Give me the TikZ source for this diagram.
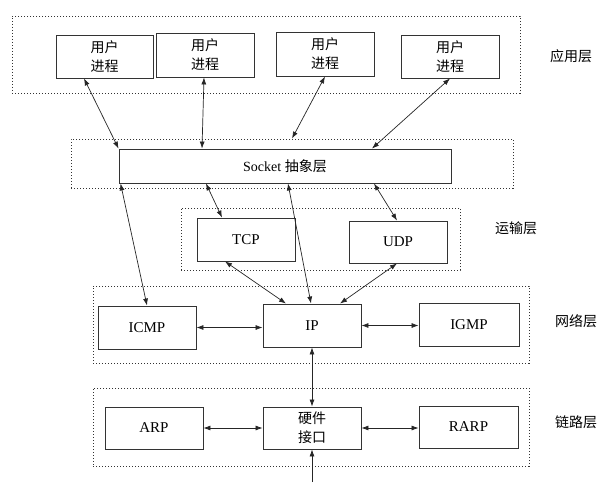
\documentclass[tikz,border=0pt]{standalone}
\usepackage{fontspec}
\setmainfont{Liberation Serif}
\newfontfamily\cjk{Noto Sans CJK SC}
\usetikzlibrary{arrows.meta,calc}
\begin{document}
\begin{tikzpicture}[x=1pt,y=-1pt,
  box/.style={draw=black!80,line width=0.9pt,rectangle,inner sep=0pt,align=center,font=\fontsize{15}{18}\selectfont},
  cbox/.style={box,font=\cjk\fontsize{14}{19}\selectfont},
  region/.style={draw=black!80,line width=0.8pt,dash pattern=on 1.2pt off 1.8pt,rectangle,inner sep=0pt},
  lbl/.style={font=\cjk\fontsize{14}{16}\selectfont,inner sep=0pt},
  link/.style={draw=black!85,line width=0.7pt,{Latex[length=7pt,width=5pt]}-{Latex[length=7pt,width=5pt]}},
  uplink/.style={draw=black!85,line width=0.7pt,-{Latex[length=7pt,width=5pt]}}]
\useasboundingbox (0,0) rectangle (607,482);
\fill[white] (0,0) rectangle (607,482);
% regions
\node[region,minimum width=508pt,minimum height=77pt] (app) at (266,54.5) {};
\node[region,minimum width=442pt,minimum height=49pt] (sockreg) at (292,163.5) {};
\node[region,minimum width=279pt,minimum height=62pt] (trans) at (320.5,239) {};
\node[region,minimum width=436pt,minimum height=77pt] (net) at (311,324.5) {};
\node[region,minimum width=436pt,minimum height=78pt] (lnk) at (311,427) {};
% layer labels
\node[lbl] (lapp) at (571,56) {应用层};
\node[lbl] (ltrans) at (516,228) {运输层};
\node[lbl] (lnet) at (576,321) {网络层};
\node[lbl] (llnk) at (576,422) {链路层};
% boxes
\node[cbox,minimum width=97pt,minimum height=43pt] (u1) at (104.5,56.5) {用户\\进程};
\node[cbox,minimum width=98pt,minimum height=44pt] (u2) at (205,55) {用户\\进程};
\node[cbox,minimum width=98pt,minimum height=44pt] (u3) at (325,54) {用户\\进程};
\node[cbox,minimum width=98pt,minimum height=43pt] (u4) at (450,56.5) {用户\\进程};
\node[box,minimum width=332pt,minimum height=34pt,font=\fontsize{14}{16}\selectfont] (sock) at (285,166) {Socket {\cjk 抽象层}};
\node[box,minimum width=98pt,minimum height=43pt] (tcp) at (246,239.5) {TCP};
\node[box,minimum width=98pt,minimum height=42pt] (udp) at (398,242) {UDP};
\node[box,minimum width=98pt,minimum height=43pt] (icmp) at (147,327.5) {ICMP};
\node[box,minimum width=98pt,minimum height=43pt] (ip) at (312,325.5) {IP};
\node[box,minimum width=100pt,minimum height=43pt] (igmp) at (469,324.5) {IGMP};
\node[box,minimum width=98pt,minimum height=42pt] (arp) at (154,428) {ARP};
\node[cbox,minimum width=98pt,minimum height=42pt] (hw) at (312,428) {硬件\\接口};
\node[box,minimum width=99pt,minimum height=42pt] (rarp) at (468.5,427) {RARP};
\coordinate (wire) at (312,482);
% application to socket
\draw[link] ([xshift=-20.5pt]u1.south) -- (sock.north west);
\draw[link] ([xshift=-1pt]u2.south) -- ([xshift=-83pt]sock.north);
\draw[link] (u3.south) -- (sockreg.north);
\draw[link] (u4.south) -- ([xshift=87pt]sock.north);
% socket down
\draw[link] ([xshift=2pt]sock.south west) -- (icmp.north);
\draw[link] ([xshift=-79pt]sock.south) -- ([xshift=-24pt]tcp.north);
\draw[link] ([xshift=3pt]sock.south) -- ([xshift=-1pt]ip.north);
\draw[link] ([xshift=89pt]sock.south) -- ([xshift=-1pt]udp.north);
% transport to IP
\draw[link] ([xshift=-21pt]tcp.south) -- ([xshift=-26pt]ip.north);
\draw[link] ([xshift=-1pt]udp.south) -- ([xshift=28pt]ip.north);
% network layer
\draw[link] (icmp.east) -- (icmp.east -| ip.west);
\draw[link] (ip.east) -- (ip.east -| igmp.west);
\draw[link] (ip.south) -- (hw.north);
% link layer
\draw[link] (arp.east) -- (arp.east -| hw.west);
\draw[link] (hw.east) -- (hw.east -| rarp.west);
\draw[uplink] (wire) -- (hw.south);
\end{tikzpicture}
\end{document}
